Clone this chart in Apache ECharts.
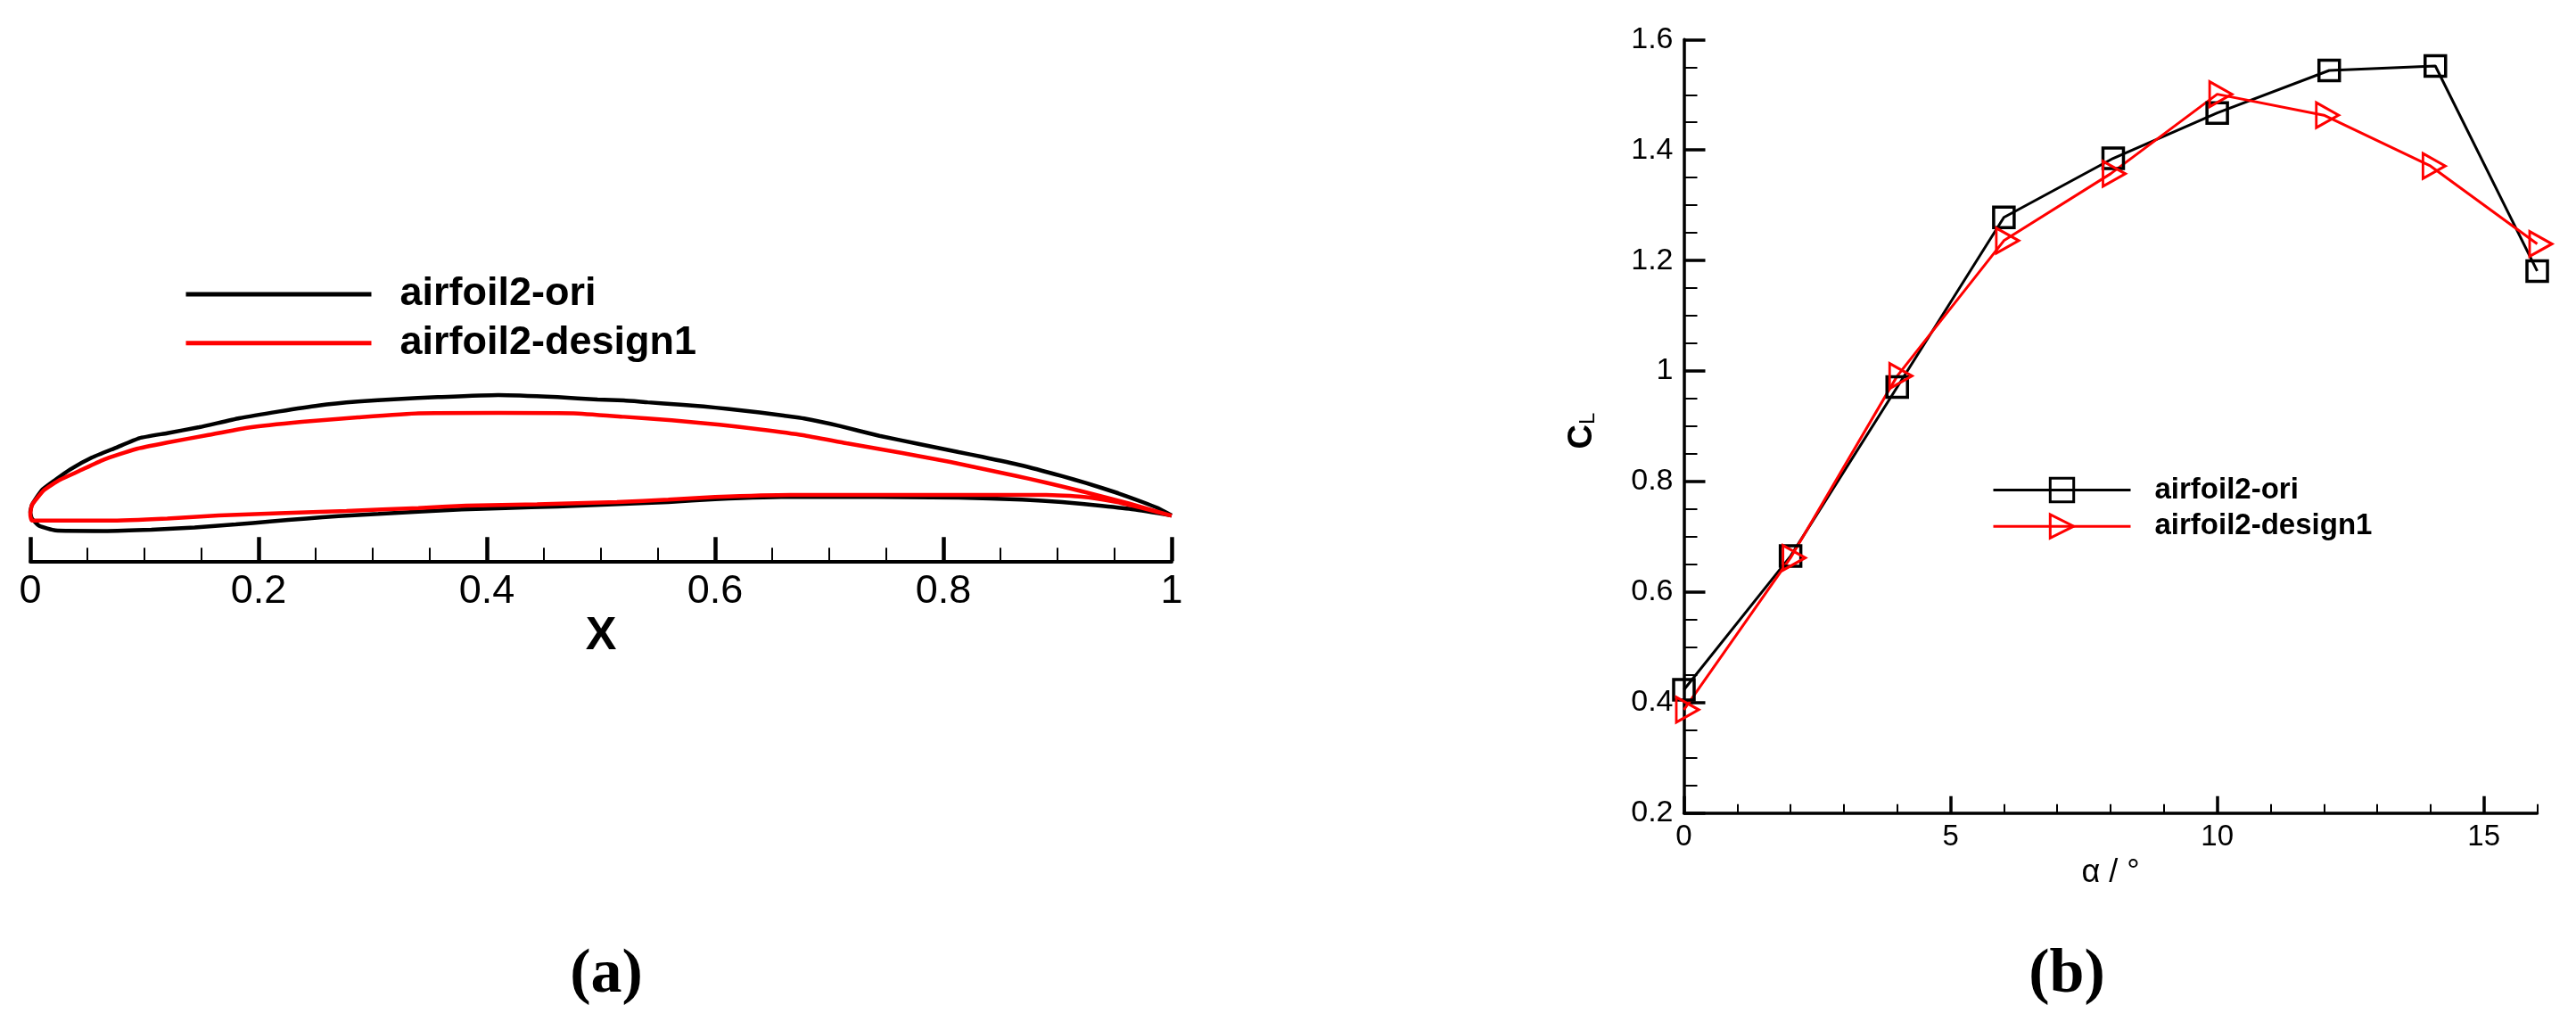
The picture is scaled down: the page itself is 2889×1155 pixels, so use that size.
<!DOCTYPE html>
<html>
<head>
<meta charset="utf-8">
<style>html,body{margin:0;padding:0;background:#fff}#c{width:2889px;height:1155px}</style>
<script src="https://cdn.jsdelivr.net/npm/echarts@6/dist/echarts.min.js"></script>
</head>
<body>
<div id="c"></div>
<script>
const oriName = 'airfoil2-ori';
const designName = 'airfoil2-design1';

// (a) airfoil outlines: chordwise x, thickness y
const oriUpperX = [0.0014,0.010,0.022,0.035,0.054,0.075,0.0955,0.12,0.148,0.183,0.218,0.2525,0.287,0.322,0.357,0.41,0.462,0.497,0.520,0.541,0.5695,0.590,0.611,0.639,0.660,0.678,0.709,0.744,0.779,0.8135,0.834,0.869,0.904,0.925,0.953,0.974,0.988,1];
const oriUpperY = [0.0042,0.0172,0.0263,0.0354,0.0458,0.0544,0.0628,0.0672,0.0724,0.0802,0.0862,0.0914,0.0948,0.0971,0.0987,0.1005,0.0987,0.0966,0.0958,0.0942,0.0922,0.0905,0.0885,0.0853,0.0825,0.0800,0.0735,0.0648,0.0576,0.0505,0.0465,0.0388,0.0295,0.0235,0.0146,0.0070,0.0015,-0.0049];
const oriLowerX = [0,0.0014,0.008,0.022,0.064,0.106,0.144,0.18,0.21,0.242,0.27,0.305,0.34,0.378,0.416,0.462,0.559,0.60,0.67,0.8135,0.869,0.904,0.939,0.967,1];
const oriLowerY = [-0.002,-0.0076,-0.0141,-0.018,-0.0185,-0.0174,-0.0154,-0.0128,-0.0102,-0.0076,-0.0055,-0.0036,-0.0016,0.0003,0.0016,0.0029,0.0068,0.0094,0.0115,0.0107,0.0089,0.0068,0.0034,0.0003,-0.0049];
const designUpperX = [0.0014,0.012,0.026,0.043,0.064,0.092,0.12,0.155,0.19,0.238,0.287,0.34,0.41,0.476,0.52,0.562,0.604,0.639,0.677,0.715,0.764,0.806,0.852,0.876,0.904,0.939,0.963,1];
const designUpperY = [0.0042,0.0172,0.0263,0.0341,0.0438,0.0531,0.0589,0.0654,0.0719,0.0771,0.0810,0.0846,0.0849,0.0846,0.0815,0.0784,0.0745,0.0705,0.0654,0.0583,0.0497,0.0419,0.0322,0.0270,0.0205,0.0118,0.0055,-0.0052];
const designLowerX = [0,0.0014,0.0677,0.12,0.165,0.218,0.277,0.34,0.382,0.444,0.514,0.559,0.60,0.666,0.8135,0.89,0.921,0.949,0.974,1];
const designLowerY = [-0.004,-0.0094,-0.0094,-0.0076,-0.0049,-0.0029,-0.0010,0.0016,0.0036,0.0049,0.0068,0.0089,0.0112,0.0130,0.0130,0.0130,0.0115,0.0073,0.0016,-0.0052];

// (b) lift coefficient against angle of attack
const oriAlpha = [0,2,4,6,8.05,10,12.1,14.09,16];
const oriCL = [0.423,0.665,0.971,1.278,1.385,1.467,1.544,1.552,1.181];
const designAlpha = [0,2,4,6,8,10,12,14,16];
const designCL = [0.387,0.662,0.991,1.236,1.357,1.501,1.463,1.371,1.230];

const xTicksMajorB = [0,5,10,15];

const zip = (a, b) => a.map((v, i) => [v, b[i]]);
const outline = (ux, uy, lx, ly) => zip(ux, uy).reverse().concat(zip(lx, ly));
const sans = '"Liberation Sans", Arial, sans-serif';
const serif = '"Liberation Serif", "Times New Roman", serif';

const chart = echarts.init(document.getElementById('c'), null, {renderer: 'canvas'});
chart.setOption({
  animation: false,
  backgroundColor: '#fff',
  title: [
    {text: '{n|(}{b|a}{n|)}', left: 675, top: 1054, textAlign: 'center',
     textStyle: {rich: {n: {fontFamily: serif, fontSize: 70, color: '#000'}, b: {fontFamily: serif, fontSize: 70, fontWeight: 'bold', color: '#000'}}}},
    {text: '{n|(}{b|b}{n|)}', left: 2313, top: 1054, textAlign: 'center',
     textStyle: {rich: {n: {fontFamily: serif, fontSize: 70, color: '#000'}, b: {fontFamily: serif, fontSize: 70, fontWeight: 'bold', color: '#000'}}}}
  ],
  legend: [
    {left: 206, top: 307.5, padding: 0, orient: 'vertical', itemWidth: 208, itemHeight: 30, itemGap: 9.7,
     textStyle: {fontFamily: sans, fontWeight: 'bold', fontSize: 45, color: '#000', padding: [0, 0, 0, 27]},
     itemStyle: {opacity: 0},
     lineStyle: {width: 5},
     data: [oriName, designName], selectedMode: false},
    {left: 2234, top: 533, padding: 0, orient: 'vertical', itemWidth: 154, itemHeight: 33, itemGap: 7.7,
     textStyle: {fontFamily: sans, fontWeight: 'bold', fontSize: 33, color: '#000', padding: [0, 0, 0, 22]},
     itemStyle: {borderWidth: 3},
     lineStyle: {width: 3},
     data: [oriName + ' ', designName + ' '], selectedMode: false}
  ],
  grid: [
    {left: 34, width: 1280, top: 430.9, height: 198.4, containLabel: false},
    {left: 1888.5, width: 957, top: 44.3, height: 867.4, containLabel: false}
  ],
  xAxis: [
    {type: 'value', gridIndex: 0, min: 0, max: 1, interval: 0.2, position: 'bottom',
     name: 'X', nameLocation: 'middle', nameGap: 56,
     nameTextStyle: {fontFamily: sans, fontWeight: 'bold', fontSize: 52, color: '#000'},
     axisLine: {show: true, onZero: false, lineStyle: {color: '#000', width: 4}},
     axisTick: {show: true, inside: true, length: 27, lineStyle: {color: '#000', width: 4.5}},
     minorTick: {show: true, splitNumber: 4, length: 15, lineStyle: {color: '#000', width: 2}},
     axisLabel: {fontFamily: sans, fontSize: 45, color: '#000', margin: 12},
     splitLine: {show: false}},
    {type: 'value', gridIndex: 1, min: 0, max: 16, interval: 5, position: 'bottom',
     name: 'α / °', nameLocation: 'middle', nameGap: 42,
     nameTextStyle: {fontFamily: sans, fontSize: 36, color: '#000'},
     axisLine: {show: true, onZero: false, lineStyle: {color: '#000', width: 3.5}},
     axisTick: {show: true, inside: true, length: 19, customValues: xTicksMajorB, lineStyle: {color: '#000', width: 3.5}},
     minorTick: {show: false},
     axisLabel: {fontFamily: sans, fontSize: 33, color: '#000', margin: 11, customValues: xTicksMajorB},
     splitLine: {show: false}},
    {type: 'value', gridIndex: 1, min: 0, max: 16, interval: 1, position: 'bottom',
     axisLine: {show: false, onZero: false},
     axisTick: {show: true, inside: true, length: 10, lineStyle: {color: '#000', width: 2}},
     axisLabel: {show: false},
     splitLine: {show: false}}
  ],
  yAxis: [
    {type: 'value', gridIndex: 0, min: -0.045, max: 0.11, show: false, splitLine: {show: false}},
    {type: 'value', gridIndex: 1, min: 0.2, max: 1.6, interval: 0.2, position: 'left',
     name: '{c|C}{l|L}', nameLocation: 'middle', nameGap: 95, nameRotate: 90,
     nameTextStyle: {rich: {
       c: {fontFamily: sans, fontWeight: 'bold', fontSize: 38, color: '#000'},
       l: {fontFamily: sans, fontSize: 24, color: '#000', verticalAlign: 'bottom', padding: [0, 10, 0, 0]}}},
     axisLine: {show: true, onZero: false, lineStyle: {color: '#000', width: 3.5}},
     axisTick: {show: true, inside: true, length: 24, lineStyle: {color: '#000', width: 3.5}},
     minorTick: {show: true, splitNumber: 4, length: 15, lineStyle: {color: '#000', width: 2}},
     axisLabel: {fontFamily: sans, fontSize: 34, color: '#000', margin: 12},
     splitLine: {show: false}}
  ],
  series: [
    {type: 'line', name: oriName, xAxisIndex: 0, yAxisIndex: 0, symbol: 'none', clip: false, smooth: 0.15,
     lineStyle: {color: '#000', width: 4.5}, itemStyle: {color: '#000'},
     data: outline(oriUpperX, oriUpperY, oriLowerX, oriLowerY)},
    {type: 'line', name: designName, xAxisIndex: 0, yAxisIndex: 0, symbol: 'none', clip: false, smooth: 0.15,
     lineStyle: {color: '#f00', width: 4.5}, itemStyle: {color: '#f00'},
     data: outline(designUpperX, designUpperY, designLowerX, designLowerY)},
    {type: 'line', name: oriName + ' ', xAxisIndex: 1, yAxisIndex: 1, clip: false,
     symbol: 'rect', symbolSize: 23,
     lineStyle: {color: '#000', width: 3},
     itemStyle: {color: 'transparent', borderColor: '#000', borderWidth: 3.5},
     data: zip(oriAlpha, oriCL)},
    {type: 'line', name: designName + ' ', xAxisIndex: 1, yAxisIndex: 1, clip: false,
     symbol: 'triangle', symbolSize: [28, 25], symbolRotate: -90, symbolOffset: [4, 0],
     lineStyle: {color: '#f00', width: 3},
     itemStyle: {color: 'transparent', borderColor: '#f00', borderWidth: 3},
     data: zip(designAlpha, designCL)}
  ]
});
</script>
</body>
</html>
